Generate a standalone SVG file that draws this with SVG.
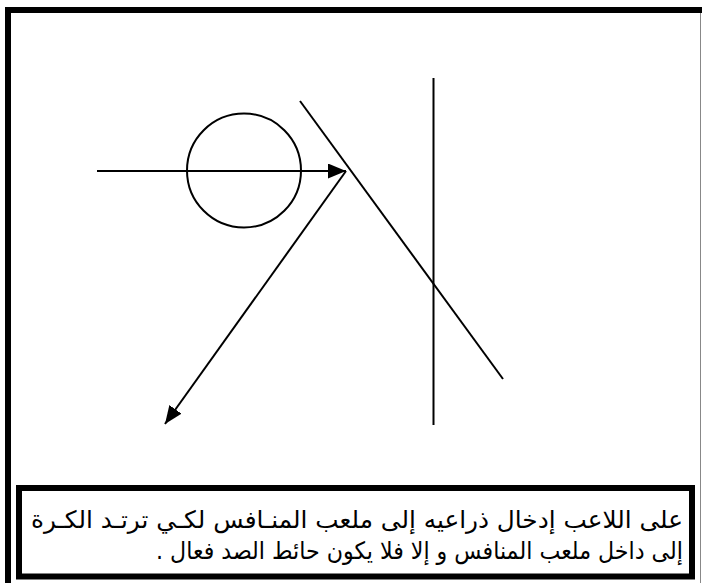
<svg xmlns="http://www.w3.org/2000/svg" width="702" height="583" viewBox="0 0 702 583">
<style>
.ln{stroke:#000;stroke-width:2;fill:none}
.tx{font-family:"DejaVu Sans","Liberation Sans",Arial,sans-serif;font-size:24px;fill:#000}
</style>
<defs>
<marker id="ah2" viewBox="0 0 10 10" refX="10" refY="5" markerWidth="18" markerHeight="15" markerUnits="userSpaceOnUse" orient="auto" preserveAspectRatio="none">
<path d="M0,0 L10,5 L0,10 Z" fill="#000"/>
</marker>
</defs>
<rect width="702" height="583" fill="#fff"/>
<g id="frame">
<rect x="5" y="7" width="697" height="6" fill="#000"/>
<rect x="5" y="7" width="6" height="576" fill="#000"/>
<line x1="700.5" y1="13" x2="700.5" y2="583" stroke="#888" stroke-width="1"/>
</g>
<g id="ball"><circle cx="244" cy="170.5" r="57" class="ln"/></g>
<g id="wall"><line x1="433.5" y1="78" x2="433.5" y2="425" class="ln"/></g>
<g id="arm"><line x1="300" y1="101" x2="503" y2="379" class="ln"/></g>
<g id="connectors">
<line x1="97" y1="171" x2="346" y2="171" class="ln" marker-end="url(#ah2)"/>
<line x1="346" y1="171" x2="165" y2="424" class="ln" marker-end="url(#ah2)"/>
</g>
<g id="note">
<rect x="19" y="488" width="673" height="88.5" fill="none" stroke="#000" stroke-width="6"/>
<text class="tx" x="683" y="528" direction="rtl" unicode-bidi="embed" text-anchor="start" textLength="652" lengthAdjust="spacingAndGlyphs">على اللاعب إدخال ذراعيه إلى ملعب المنـافس لكـي ترتـد الكـرة</text>
<text class="tx" x="683" y="559" direction="rtl" unicode-bidi="embed" text-anchor="start" textLength="527" lengthAdjust="spacingAndGlyphs">إلى داخل ملعب المنافس و إلا فلا يكون حائط الصد فعال .</text>
</g>
</svg>
